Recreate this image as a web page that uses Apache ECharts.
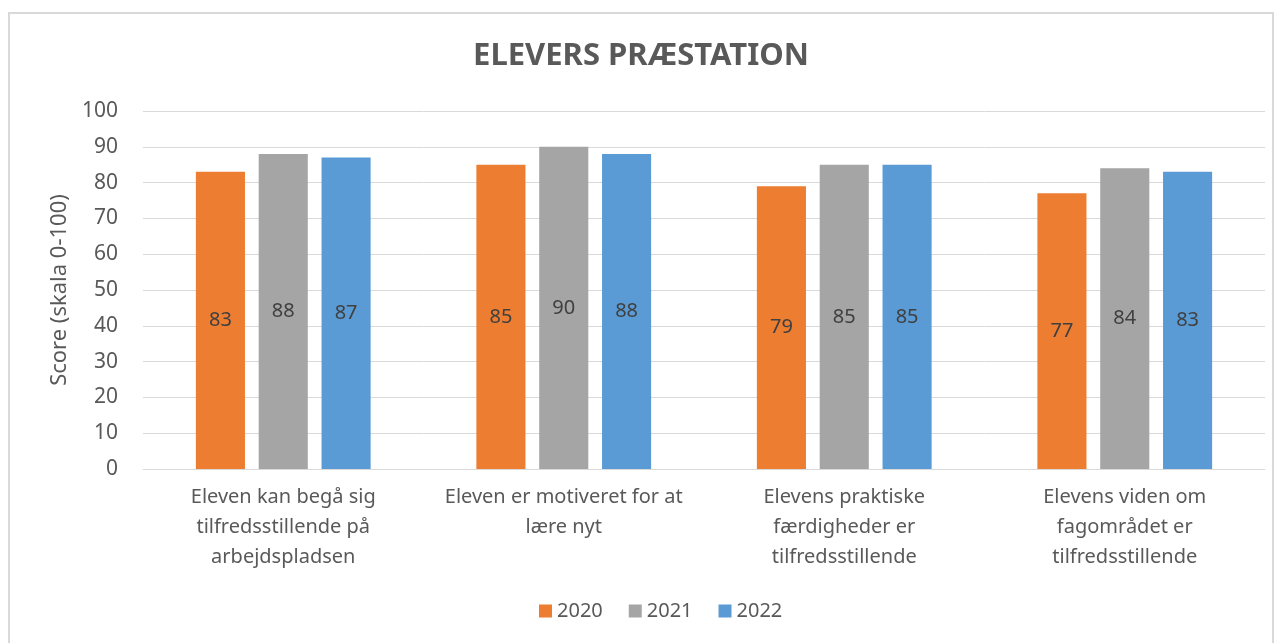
<!DOCTYPE html>
<html lang="da">
<head>
<meta charset="UTF-8">
<title>Elevers præstation</title>
<style>
  html, body { margin: 0; padding: 0; background: #fff; }
  #frame {
    position: absolute; left: 8px; top: 12px; width: 1266px; height: 640px;
    border: 2px solid #d9d9d9; box-sizing: border-box;
  }
  #chart { position: absolute; left: 0; top: 0; width: 1282px; height: 643px; }
</style>
</head>
<body>
<div id="frame"></div>
<div id="chart"></div>
<script src="https://cdn.jsdelivr.net/npm/echarts@6/dist/echarts.min.js"></script>
<script>
// data
var categories = [
  'Eleven kan begå sig\ntilfredsstillende på\narbejdspladsen',
  'Eleven er motiveret for at\nlære nyt',
  'Elevens praktiske\nfærdigheder er\ntilfredsstillende',
  'Elevens viden om\nfagområdet er\ntilfredsstillende'
];
var years = ['2020', '2021', '2022'];
var v2020 = [83, 85, 79, 77];
var v2021 = [88, 90, 85, 84];
var v2022 = [87, 88, 85, 83];
var yTicks = { min: 0, max: 100, interval: 10 };

var colors = ['#ED7D31', '#A5A5A5', '#5B9BD5'];
var font = 'Noto Sans';

function barSeries(name, data, color) {
  return {
    name: name,
    type: 'bar',
    data: data,
    barWidth: '17.5%',
    barGap: '28%',
    itemStyle: { color: color },
    label: {
      show: true,
      position: 'inside',
      color: '#404040',
      fontFamily: font,
      fontSize: 20
    }
  };
}

var chart = echarts.init(document.getElementById('chart'));
chart.setOption({
  animation: false,
  color: colors,
  title: {
    text: 'ELEVERS PRÆSTATION',
    left: 'center',
    top: 36,
    textStyle: { color: '#595959', fontFamily: font, fontSize: 31, fontWeight: 'bold' }
  },
  legend: {
    data: years,
    bottom: 17,
    left: 534,
    icon: 'rect',
    itemWidth: 13,
    itemHeight: 13,
    itemGap: 26,
    textStyle: { color: '#595959', fontFamily: font, fontSize: 20 }
  },
  grid: { left: 143, right: 17, top: 111, bottom: 174, containLabel: false },
  xAxis: {
    type: 'category',
    data: categories,
    axisTick: { show: false },
    axisLine: { lineStyle: { color: '#d9d9d9', width: 1 } },
    axisLabel: {
      color: '#595959', fontFamily: font, fontSize: 20,
      lineHeight: 30, margin: 13, interval: 0
    }
  },
  yAxis: {
    type: 'value',
    min: yTicks.min,
    max: yTicks.max,
    interval: yTicks.interval,
    name: 'Score (skala 0-100)',
    nameLocation: 'middle',
    nameGap: 70,
    nameTextStyle: { color: '#595959', fontFamily: font, fontSize: 22 },
    axisLine: { show: false },
    axisTick: { show: false },
    axisLabel: { color: '#595959', fontFamily: font, fontSize: 21, margin: 25 },
    splitLine: { lineStyle: { color: '#d9d9d9', width: 1 } }
  },
  series: [
    barSeries(years[0], v2020, colors[0]),
    barSeries(years[1], v2021, colors[1]),
    barSeries(years[2], v2022, colors[2])
  ]
});
</script>
</body>
</html>
